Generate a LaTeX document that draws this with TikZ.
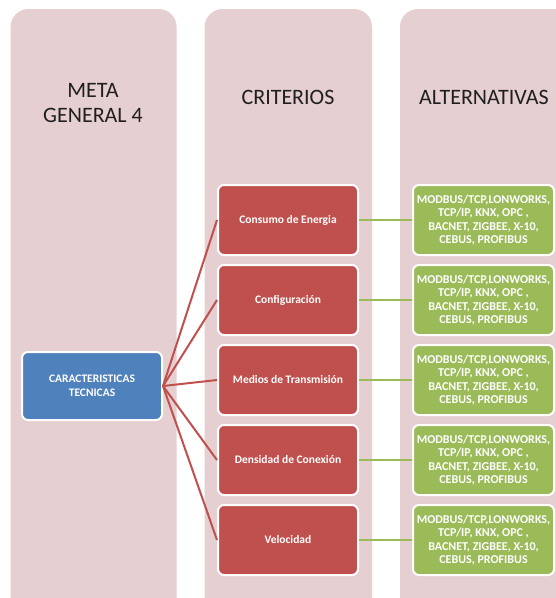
\documentclass[tikz,border=0pt]{standalone}
\usepackage{fontspec}
\setmainfont{Carlito}
\definecolor{colbg}{HTML}{E6CFD0}
\definecolor{redbox}{HTML}{C0504D}
\definecolor{bluebox}{HTML}{4F81BD}
\definecolor{greenbox}{HTML}{9BBB59}
\definecolor{headtxt}{HTML}{1F1F1F}
\tikzset{
  column/.style={fill=colbg, draw=none, rounded corners=18pt},
  crit/.style={fill=redbox, draw=white, line width=2pt, rounded corners=6pt, minimum width=140pt, minimum height=70pt, text=white, font=\fontsize{11.5}{13}\selectfont\bfseries, align=center, inner sep=0pt},
  goal/.style={fill=bluebox, draw=white, line width=2pt, rounded corners=6pt, minimum width=140pt, minimum height=68pt, text=white, font=\fontsize{11.5}{13.5}\selectfont\bfseries, align=center, inner sep=0pt},
  alt/.style={fill=greenbox, draw=white, line width=2pt, rounded corners=6pt, minimum width=141pt, minimum height=70pt, text=white, font=\fontsize{12}{13.3}\selectfont\bfseries, align=center, inner sep=0pt},
  head/.style={text=headtxt, font=\fontsize{22}{25}\selectfont, align=center},
  redline/.style={draw=redbox, line width=2pt},
  greenline/.style={draw=greenbox, line width=2.5pt}
}
\newcommand{\alttext}{MODBUS/TCP,LONWORKS,\\TCP/IP, KNX, OPC ,\\BACNET, ZIGBEE, X-10,\\CEBUS, PROFIBUS}
\begin{document}
\begin{tikzpicture}[x=1pt,y=-1pt]
\useasboundingbox (0,0) rectangle (556,598);
\fill[white] (0,0) rectangle (556,598);
\begin{scope}
\clip (0,0) rectangle (556,598);
\path[column] (10.6,9) rectangle (176.6,620);
\path[column] (204.6,9) rectangle (372,620);
\path[column] (400,9) rectangle (580,620);
\end{scope}
\node[head] (h1) at (93,103) {META\\GENERAL 4};
\node[head] (h2) at (288,97) {CRITERIOS};
\node[head] (h3) at (484,97) {ALTERNATIVAS};

\node[goal] (g) at (92,386) {CARACTERISTICAS\\TECNICAS};

\node[crit] (c1) at (288,220) {Consumo de Energia};
\node[crit] (c2) at (288,300) {Configuración};
\node[crit] (c3) at (288,380) {Medios de Transmisión};
\node[crit] (c4) at (288,460) {Densidad de Conexión};
\node[crit] (c5) at (288,540) {Velocidad};

\foreach \i/\y in {1/220,2/300,3/380,4/460,5/540}{
  \node[alt] (a\i) at (483.5,\y) {\alttext};
}

\foreach \i in {1,...,5}{
  \draw[redline] (g.east) -- (c\i.west);
  \draw[greenline] (c\i.east) -- (a\i.west);
}
\end{tikzpicture}
\end{document}
